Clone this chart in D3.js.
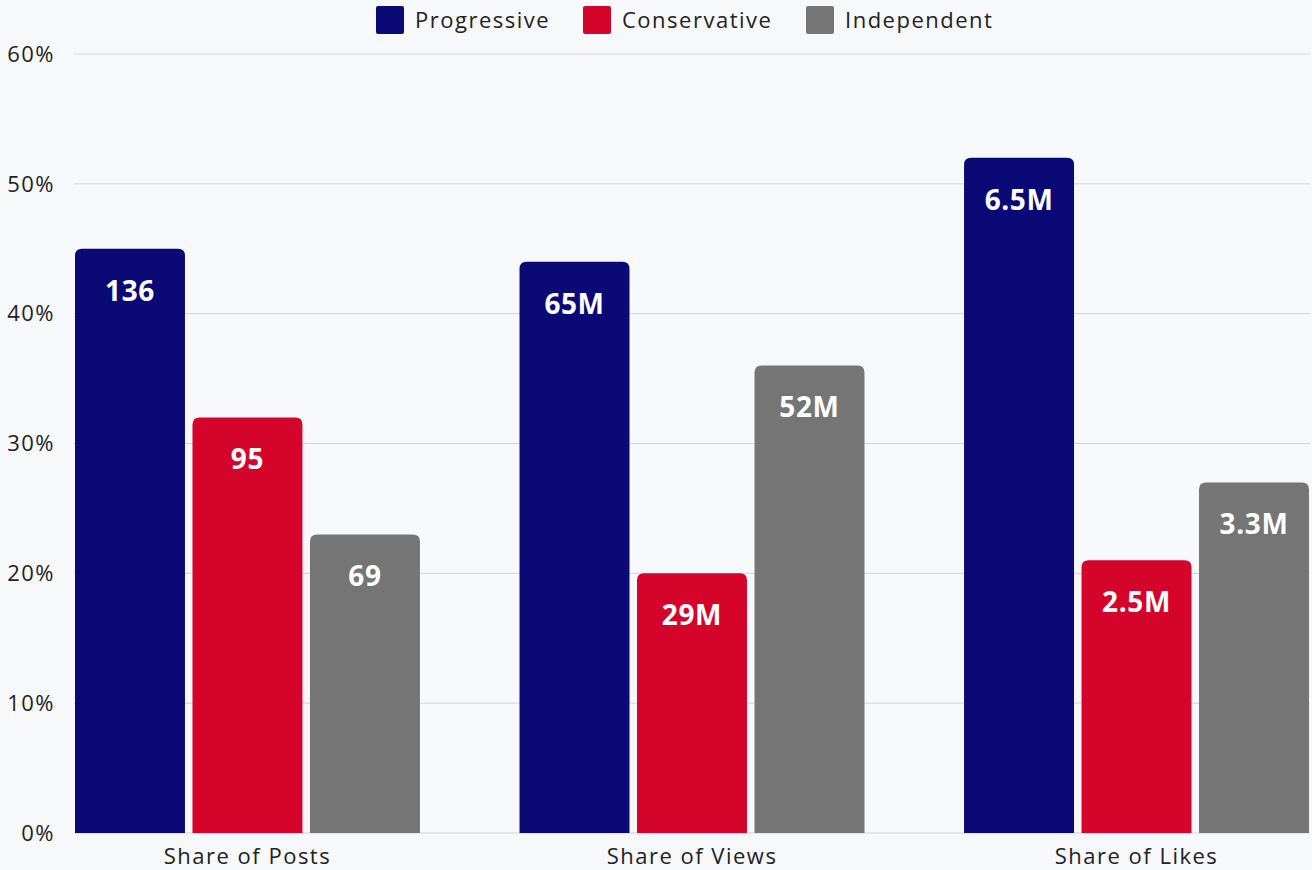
<!DOCTYPE html>
<html>
<head>
<meta charset="utf-8">
<script src="https://cdn.jsdelivr.net/npm/d3@7"></script>
<style>
  html, body { margin: 0; padding: 0; background: #f7f8fa; }
  svg { display: block; font-family: "Open Sans", "Noto Sans", sans-serif; }
</style>
</head>
<body>
<svg id="chart" width="1312" height="870"></svg>
<script>
// Share of posts, views and likes by political leaning
const categories = ["Share of Posts", "Share of Views", "Share of Likes"];
const seriesNames = ["Progressive", "Conservative", "Independent"];
const progressive = [45, 44, 52];
const conservative = [32, 20, 21];
const independent = [23, 36, 27];
const progressiveLabels = ["136", "65M", "6.5M"];
const conservativeLabels = ["95", "29M", "2.5M"];
const independentLabels = ["69", "52M", "3.3M"];
const yTicks = [0, 10, 20, 30, 40, 50, 60];
const colors = ["#0a0975", "#d5042b", "#757575"];

(function () {
  const seriesValues = [progressive, conservative, independent];
  const seriesLabels = [progressiveLabels, conservativeLabels, independentLabels];

  const rows = categories.map((c, i) => ({
    category: c,
    bars: seriesNames.map((s, j) => ({ series: s, value: seriesValues[j][i], label: seriesLabels[j][i] }))
  }));

  const svg = d3.select("#chart");
  const plotLeft = 74, plotRight = 1310, plotTop = 54, plotBottom = 833;
  const textColor = "#222";

  const y = d3.scaleLinear().domain([0, 60]).range([plotBottom, plotTop]);
  const x0 = d3.scaleBand().domain(categories).range([75, 1309]).paddingInner(0.224).paddingOuter(0);
  const x1 = d3.scaleBand().domain(seriesNames).range([0, x0.bandwidth()]).paddingInner(0.064).paddingOuter(0);
  const color = d3.scaleOrdinal().domain(seriesNames).range(colors);

  // gridlines
  svg.append("g")
    .selectAll("line")
    .data(yTicks)
    .join("line")
    .attr("x1", plotLeft).attr("x2", plotRight)
    .attr("y1", d => y(d)).attr("y2", d => y(d))
    .attr("stroke", "#d3d4d8").attr("stroke-width", 1);

  // y tick labels
  svg.append("g")
    .selectAll("text")
    .data(yTicks)
    .join("text")
    .attr("x", 55)
    .attr("y", d => y(d))
    .attr("dy", "0.35em")
    .attr("text-anchor", "end")
    .attr("font-size", 22)
    .attr("letter-spacing", 1.5)
    .attr("fill", textColor)
    .text(d => d + "%");

  // bars with rounded tops
  function barPath(x, yTop, w, h, r) {
    r = Math.min(r, h, w / 2);
    return `M${x},${yTop + h}V${yTop + r}Q${x},${yTop} ${x + r},${yTop}H${x + w - r}Q${x + w},${yTop} ${x + w},${yTop + r}V${yTop + h}Z`;
  }

  const groups = svg.append("g")
    .selectAll("g")
    .data(rows)
    .join("g")
    .attr("transform", d => `translate(${x0(d.category)},0)`);

  groups.selectAll("path")
    .data(d => d.bars)
    .join("path")
    .attr("d", d => barPath(x1(d.series), y(d.value), x1.bandwidth(), plotBottom - y(d.value), 7))
    .attr("fill", d => color(d.series));

  groups.selectAll("text")
    .data(d => d.bars)
    .join("text")
    .attr("x", d => x1(d.series) + x1.bandwidth() / 2)
    .attr("y", d => y(d.value) + 42)
    .attr("dy", "0.35em")
    .attr("text-anchor", "middle")
    .attr("font-size", 28)
    .attr("font-weight", 700)
    .attr("letter-spacing", 0.6)
    .attr("fill", "#fff")
    .text(d => d.label);

  // category labels
  svg.append("g")
    .selectAll("text")
    .data(categories)
    .join("text")
    .attr("x", d => x0(d) + x0.bandwidth() / 2)
    .attr("y", 856)
    .attr("dy", "0.35em")
    .attr("text-anchor", "middle")
    .attr("font-size", 22)
    .attr("letter-spacing", 1.5)
    .attr("fill", textColor)
    .text(d => d);

  // legend
  const legendX = [376, 583, 806];
  const legend = svg.append("g")
    .selectAll("g")
    .data(seriesNames)
    .join("g")
    .attr("transform", (d, i) => `translate(${legendX[i]},6)`);
  legend.append("rect")
    .attr("width", 28).attr("height", 28).attr("rx", 2)
    .attr("fill", d => color(d));
  legend.append("text")
    .attr("x", 39).attr("y", 14)
    .attr("dy", "0.35em")
    .attr("font-size", 22)
    .attr("letter-spacing", 1.5)
    .attr("fill", textColor)
    .text(d => d);
})();
</script>
</body>
</html>
